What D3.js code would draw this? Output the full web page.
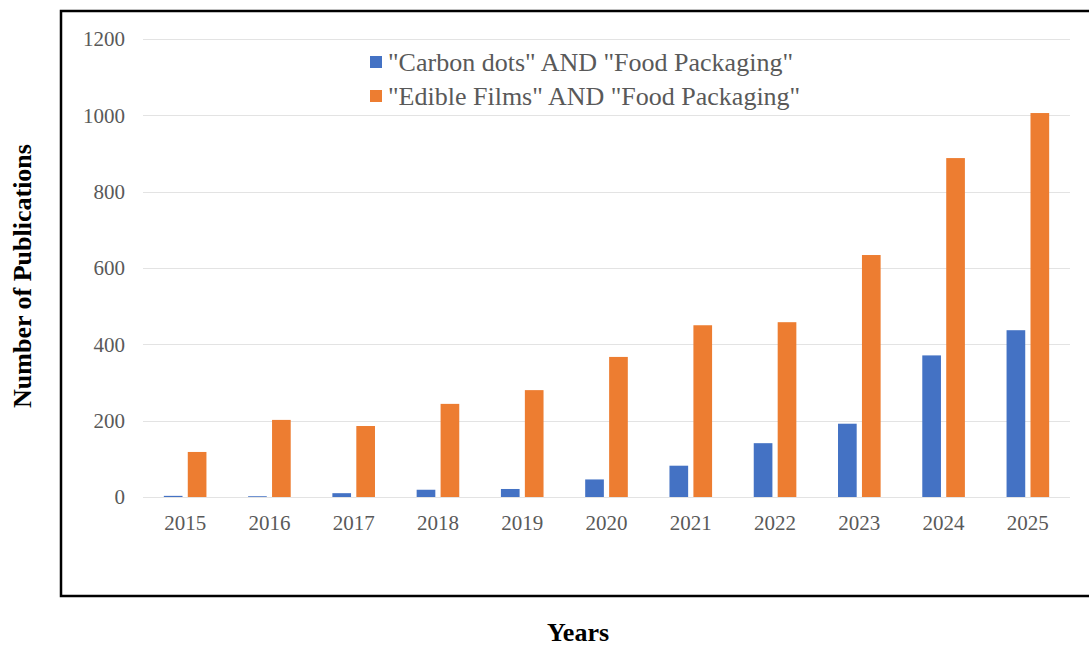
<!DOCTYPE html>
<html><head><meta charset="utf-8">
<script src="https://cdn.jsdelivr.net/npm/d3@7"></script>
<style>body{margin:0;background:#fff}svg{display:block}</style>
</head><body>
<svg id="chart" width="1089" height="647"></svg>
<script>
const years = ["2015","2016","2017","2018","2019","2020","2021","2022","2023","2024","2025"];
const carbonDots = [3, 2, 10, 19, 21, 46, 82, 141, 192, 371, 437];
const edibleFilms = [118, 202, 186, 244, 280, 367, 450, 458, 634, 888, 1006];
const seriesNames = ['"Carbon dots" AND "Food Packaging"', '"Edible Films" AND "Food Packaging"'];
const colors = ["#4472c4", "#ed7d31"];
const yTicks = [0, 200, 400, 600, 800, 1000, 1200];

const svg = d3.select("#chart");
const font = "'Liberation Serif','Times New Roman',serif";

// outer frame
svg.append("rect").attr("x", 61).attr("y", 11).attr("width", 1040).attr("height", 585)
  .attr("fill", "none").attr("stroke", "#000").attr("stroke-width", 2.5);

const x0 = d3.scaleBand().domain(years).range([143, 1070]);
const x1 = d3.scaleBand().domain([0, 1]).range([0, x0.bandwidth()]).paddingInner(0.22).paddingOuter(0.87);
const y = d3.scaleLinear().domain([0, 1200]).range([497, 39]);

// gridlines
svg.append("g").selectAll("line").data(yTicks).join("line")
  .attr("x1", 143).attr("x2", 1070)
  .attr("y1", d => Math.round(y(d)) + 0.5).attr("y2", d => Math.round(y(d)) + 0.5)
  .attr("stroke", "#e3e3e3").attr("stroke-width", 1.2);

// y axis labels
const yAxis = d3.axisLeft(y).tickValues(yTicks).tickSize(0).tickPadding(0).tickFormat(d3.format("d"));
const gy = svg.append("g").attr("transform", "translate(125,0)").call(yAxis);
gy.select(".domain").remove();
gy.selectAll("text").attr("font-family", font).attr("font-size", 21).attr("fill", "#595959");

// x axis labels
const xAxis = d3.axisBottom(x0).tickSize(0).tickPadding(0);
const gx = svg.append("g").attr("transform", "translate(0,515)").call(xAxis);
gx.select(".domain").remove();
gx.selectAll("text").attr("font-family", font).attr("font-size", 21).attr("fill", "#595959");

// bars
const data = years.map((yr, i) => ({year: yr, vals: [carbonDots[i], edibleFilms[i]]}));
const groups = svg.append("g").selectAll("g").data(data).join("g")
  .attr("transform", d => `translate(${x0(d.year)},0)`);
groups.selectAll("rect").data(d => d.vals.map((v, k) => ({v, k}))).join("rect")
  .attr("x", d => x1(d.k)).attr("width", x1.bandwidth())
  .attr("y", d => y(d.v)).attr("height", d => y(0) - y(d.v))
  .attr("fill", d => colors[d.k]);

// legend
const leg = svg.append("g").selectAll("g").data(seriesNames).join("g")
  .attr("transform", (d, i) => `translate(370,${62 + i * 34})`);
leg.append("rect").attr("x", 0).attr("y", -6).attr("width", 12).attr("height", 12)
  .attr("fill", (d, i) => colors[i]);
leg.append("text").attr("x", 18).attr("y", 0).attr("dy", "0.35em")
  .attr("font-family", font).attr("font-size", 26).attr("fill", "#595959").text(d => d);

// axis titles
svg.append("text").attr("transform", "translate(31,276) rotate(-90)")
  .attr("text-anchor", "middle").attr("font-family", font).attr("font-weight", "bold")
  .attr("font-size", 26).attr("fill", "#000").text("Number of Publications");
svg.append("text").attr("x", 578).attr("y", 641)
  .attr("text-anchor", "middle").attr("font-family", font).attr("font-weight", "bold")
  .attr("font-size", 26).attr("fill", "#000").text("Years");
</script>
</body></html>
